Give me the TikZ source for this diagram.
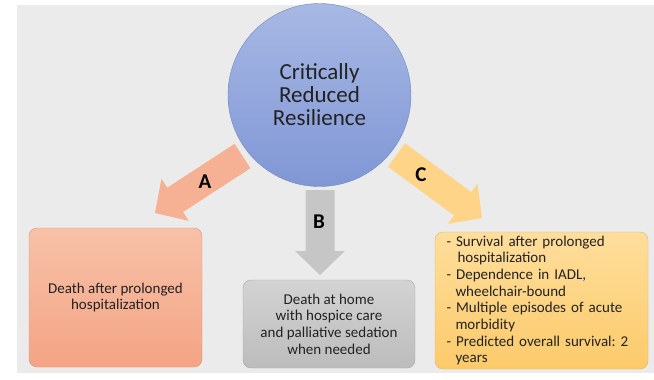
\documentclass[tikz,border=0pt]{standalone}
\usepackage{fontspec}
\setmainfont{Carlito}
\usetikzlibrary{calc}
\frenchspacing

\definecolor{fondo}{HTML}{EBEBEB}
\definecolor{texto}{HTML}{222222}
\definecolor{azularriba}{HTML}{A7B8E4}
\definecolor{azulabajo}{HTML}{8097D5}
\definecolor{azulborde}{HTML}{7087C4}
\definecolor{salmon}{HTML}{F6B093}
\definecolor{salmonarriba}{HTML}{F7C1A8}
\definecolor{salmonabajo}{HTML}{F4A484}
\definecolor{salmonborde}{HTML}{DE967A}
\definecolor{gris}{HTML}{C6C6C6}
\definecolor{grisarriba}{HTML}{D3D3D3}
\definecolor{grisabajo}{HTML}{BCBCBC}
\definecolor{grisborde}{HTML}{ABABAB}
\definecolor{oro}{HTML}{FDD488}
\definecolor{oroarriba}{HTML}{FEDE9C}
\definecolor{oroabajo}{HTML}{FCCA6A}
\definecolor{oroborde}{HTML}{E5B662}

\tikzset{
    caja/.style={rounded corners=8pt, inner sep=0pt, align=center, text=texto,
        font=\fontsize{15}{16.7}\selectfont},
    letra/.style={font=\fontsize{21}{22}\selectfont\bfseries, text=black},
}

\begin{document}
\begin{tikzpicture}[x=1pt,y=-1pt] %Resiliencia critica y sus tres caminos
        \useasboundingbox (0,0) rectangle (654,380);
        \fill[fondo] (17,5) rectangle (654,373);

        \coordinate (tA) at (242.5,156);
        \coordinate (pA) at (155,213);
        \coordinate (tB) at (320,190);
        \coordinate (pB) at (320,275);
        \coordinate (tC) at (396.5,155);
        \coordinate (pC) at (482,218);

        \foreach \t/\p/\c in {tA/pA/salmon, tB/pB/gris, tC/pC/oro}{
            \coordinate (h) at ($(\p)!24pt!(\t)$);
            \fill[\c] ($(\t)!14.5pt!90:(\p)$) -- ($(h)!14.5pt!90:(\p)$)
                -- ($(h)!25pt!90:(\p)$) -- (\p) -- ($(h)!25pt!-90:(\p)$)
                -- ($(h)!14.5pt!-90:(\p)$) -- ($(\t)!14.5pt!-90:(\p)$) -- cycle;
        }

        \node[circle, draw=azulborde, top color=azularriba, bottom color=azulabajo,
            minimum size=183pt, inner sep=0pt, align=center, text=texto,
            font=\fontsize{23}{23}\selectfont] (R) at (319.5,95)
            {Critically\\Reduced\\Resilience};

        \node[caja, draw=salmonborde, top color=salmonarriba, bottom color=salmonabajo,
            minimum width=173pt, minimum height=139pt] (cA) at (115.5,297.5)
            {Death after prolonged\\hospitalization};
        \node[caja, draw=grisborde, top color=grisarriba, bottom color=grisabajo,
            minimum width=172pt, minimum height=88pt] (cB) at (329,324)
            {Death at home\\with hospice care\\and palliative sedation\\when needed};
        \node[caja, draw=oroborde, top color=oroarriba, bottom color=oroabajo,
            minimum width=213pt, minimum height=137pt, text width=190pt, align=left] (cC) at (541.5,300.5)
            {- Survival after prolonged\\\hspace*{11pt}hospitalization\\- Dependence in IADL,\\\hspace*{9pt}wheelchair-bound\\- Multiple episodes of acute\\\hspace*{9pt}morbidity\\- Predicted overall survival: 2\\\hspace*{9pt}years};

        \node[letra] (lA) at (205,182) {A};
        \node[letra] (lB) at (319,222) {B};
        \node[letra] (lC) at (421,175) {C};
\end{tikzpicture}
\end{document}
